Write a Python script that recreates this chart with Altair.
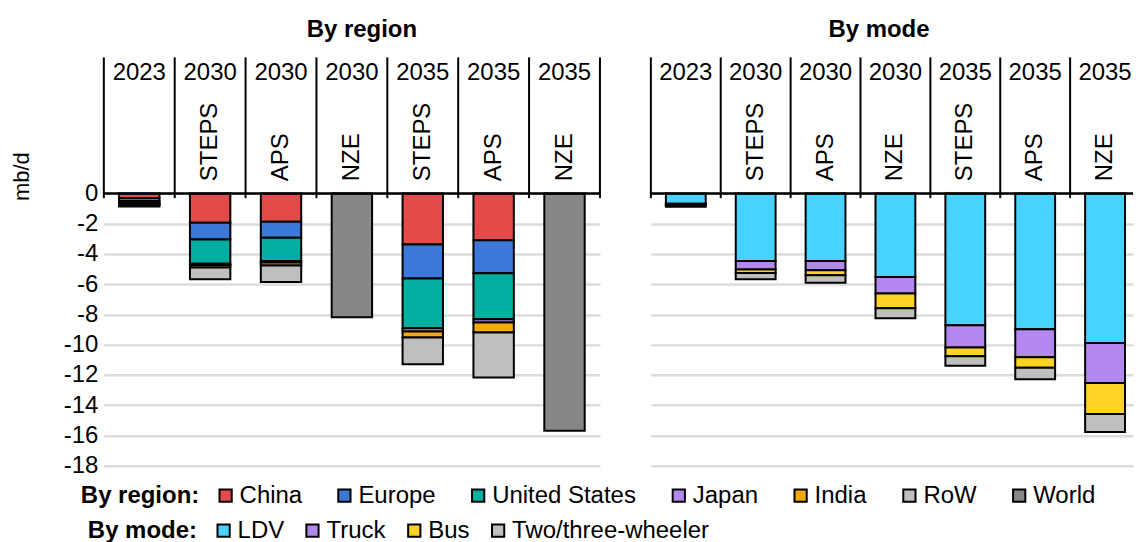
import altair as alt
import pandas as pd

# ---------------- data ----------------
years = ["2023", "2030", "2030", "2030", "2035", "2035", "2035"]
scenarios = ["", "STEPS", "APS", "NZE", "STEPS", "APS", "NZE"]

regions = ["China", "Europe", "United States", "Japan", "India", "RoW", "World"]
region_colors = ["#E34A4A", "#3C78D8", "#00AFA0", "#B388EE", "#F2A900", "#BFBFBF", "#878787"]
china = [0.30, 1.94, 1.87, 0.0, 3.37, 3.10, 0.0]
europe = [0.20, 1.10, 1.06, 0.0, 2.26, 2.18, 0.0]
united_states = [0.15, 1.61, 1.54, 0.0, 3.28, 3.04, 0.0]
japan = [0.04, 0.08, 0.10, 0.0, 0.22, 0.22, 0.0]
india = [0.05, 0.17, 0.20, 0.0, 0.40, 0.66, 0.0]
row = [0.12, 0.78, 1.08, 0.0, 1.76, 2.97, 0.0]
world = [0.0, 0.0, 0.0, 8.18, 0.0, 0.0, 15.69]
region_series = [china, europe, united_states, japan, india, row, world]

modes = ["LDV", "Truck", "Bus", "Two/three-wheeler"]
mode_colors = ["#48D2FF", "#B388EE", "#FFD324", "#BFBFBF"]
ldv = [0.68, 4.47, 4.47, 5.52, 8.71, 8.98, 9.88]
truck = [0.06, 0.55, 0.61, 1.10, 1.48, 1.85, 2.66]
bus = [0.04, 0.24, 0.33, 0.97, 0.57, 0.70, 2.05]
two_three = [0.10, 0.42, 0.49, 0.66, 0.64, 0.75, 1.19]
mode_series = [ldv, truck, bus, two_three]

y_ticks = list(range(-18, 1, 2))

# ---------------- helpers ----------------
BAR_LO, BAR_HI = 0.215, 0.785   # bar occupies this fraction of each band
FONT = "Liberation Sans"
FS = 24


def stacked(names, series):
    rows = []
    for i in range(len(years)):
        cum = 0.0
        for k, name in enumerate(names):
            v = series[k][i]
            if v <= 0:
                continue
            rows.append(dict(series=name, x=i + BAR_LO, x2=i + BAR_HI,
                             y=-cum, y2=-(cum + v)))
            cum += v
    return pd.DataFrame(rows)


header = pd.DataFrame({"c": [i + 0.5 for i in range(len(years))],
                       "year": years, "scen": scenarios})


def panel(names, colors, series, title, title_dx, width, band,
          legend_title, legend_x, legend_y, col_pad, show_labels):
    xmax = width / band
    xs = alt.Scale(domain=[0, xmax], nice=False, zero=False)
    ys = alt.Scale(domain=[-18, 9], nice=False, zero=False)
    if show_labels:
        yaxis = alt.Axis(values=y_ticks, grid=True, gridColor="#DCDCDC", gridWidth=2.5,
                         domain=False, ticks=False, labelFontSize=FS, labelColor="black",
                         labelPadding=6, labelExpr="'' + datum.value",
                         title="mb/d", titleFontSize=22,
                         titleFontWeight="normal", titleColor="black", titleAngle=270,
                         titleX=-82, titleY=119, titleAlign="center",
                         titleBaseline="middle")
    else:
        yaxis = alt.Axis(values=y_ticks, grid=True, gridColor="#DCDCDC", gridWidth=2.5,
                         domain=False, ticks=False, labels=False, title=None)

    bars = alt.Chart(stacked(names, series)).mark_bar(
        stroke="black", strokeWidth=2, clip=True
    ).encode(
        x=alt.X("x:Q", scale=xs, axis=None),
        x2="x2:Q",
        y=alt.Y("y:Q", scale=ys, axis=yaxis),
        y2="y2:Q",
        color=alt.Color("series:N", scale=alt.Scale(domain=names, range=colors),
                        legend=alt.Legend(
                            title=legend_title, orient="none", legendX=legend_x,
                            legendY=legend_y, direction="horizontal",
                            titleOrient="left", titleFontSize=FS,
                            titleFontWeight="bold", titleColor="black",
                            titlePadding=14, labelFontSize=FS, labelColor="black",
                            labelLimit=400, labelOffset=2, columnPadding=col_pad,
                            symbolType="square", symbolSize=150,
                            symbolStrokeColor="black", symbolStrokeWidth=2,
                            symbolOpacity=1)),
    )

    zero = alt.Chart(alt.Data(values=[{}])).mark_rule(
        color="black", strokeWidth=2.5
    ).encode(y=alt.datum(0))

    bounds = pd.DataFrame({"b": [b for b in range(len(years) + 1) if b <= xmax]})
    dividers = alt.Chart(bounds).mark_rule(color="black", strokeWidth=2).encode(
        x=alt.X("b:Q", scale=xs, axis=None),
        y=alt.value(0), y2=alt.value(141),
    )

    year_txt = alt.Chart(header).mark_text(
        fontSize=FS, align="center", baseline="middle", color="black", clip=True
    ).encode(x=alt.X("c:Q", scale=xs, axis=None), y=alt.value(16), text="year:N")

    scen_txt = alt.Chart(header).mark_text(
        fontSize=FS, angle=270, align="left", baseline="middle", color="black", clip=True
    ).encode(x=alt.X("c:Q", scale=xs, axis=None), y=alt.value(124), text="scen:N")

    return alt.layer(bars, zero, dividers, year_txt, scen_txt).properties(
        width=width, height=409,
        title=alt.TitleParams(title, fontSize=FS, fontWeight="bold", anchor="middle",
                              offset=14, dx=title_dx, color="black"),
    )


left = panel(regions, region_colors, region_series, "By region", 10, 497, 71,
             "By region:", -23, 427, 30, True)
right = panel(modes, mode_colors, mode_series, "By mode", -13, 483, 70,
              "By mode:", -564, 462, 16, False)

chart = alt.hconcat(left, right, spacing=51, bounds="flush").resolve_scale(
    color="independent", x="independent", y="independent"
).configure(font=FONT).configure_view(stroke=None).properties(
    padding={"left": 3, "top": 10, "right": 0, "bottom": 0}
)

chart.save("out.html", embed_options={"renderer": "svg", "actions": False})
